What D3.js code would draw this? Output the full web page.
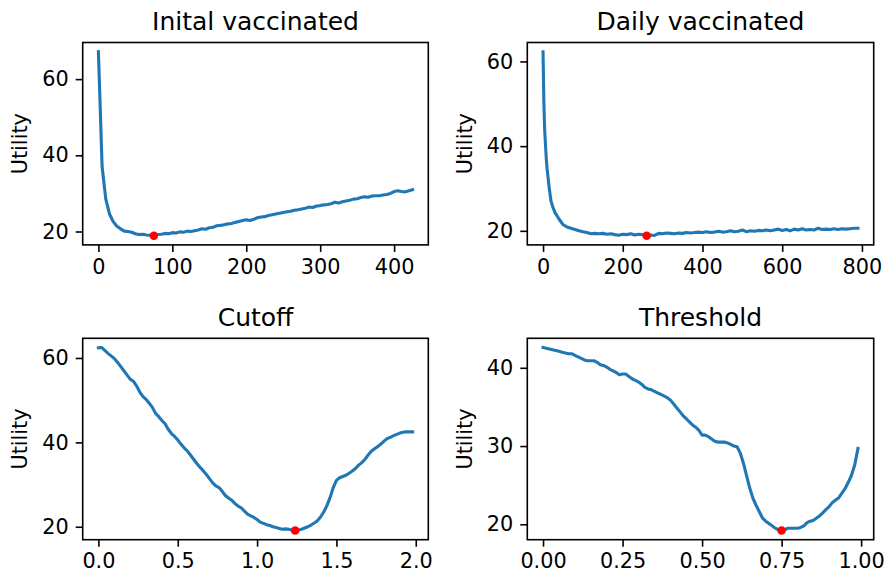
<!DOCTYPE html>
<html>
<head>
<meta charset="utf-8">
<script src="https://cdn.jsdelivr.net/npm/d3@7"></script>
<style>
  body { margin: 0; background: #fff; }
  svg { display: block; font-family: "DejaVu Sans", sans-serif; }
  .plot-title { font-size: 25px; fill: #000; }
  .axis-title { font-size: 20.8px; fill: #000; }
</style>
</head>
<body>
<svg id="UtilityVis" width="888" height="581"></svg>
<script>
const width = 888;
const height = 581;


/*******************************************************************************/


/*
* DATA
*/

// Inital vaccinated: sampled every 5 from 0 to 425
const initialX = d3.range(0, 430, 5);
const initialUtility = [
  67.2, 37.0, 28.5, 24.6, 22.6, 21.4, 20.7, 20.1, 20.0, 19.8,
  19.4, 19.2, 19.3, 19.1, 19.0, 18.9, 19.2, 19.3, 19.5, 19.4,
  19.7, 19.6, 19.9, 19.8, 20.1, 20.0, 20.2, 20.4, 20.7, 20.6,
  21.0, 21.1, 21.5, 21.6, 21.8, 22.0, 22.1, 22.4, 22.6, 22.9,
  23.1, 22.9, 23.2, 23.6, 23.8, 23.9, 24.2, 24.4, 24.6, 24.8,
  25.0, 25.2, 25.3, 25.6, 25.7, 25.9, 26.1, 26.4, 26.3, 26.7,
  26.8, 27.0, 27.1, 27.3, 27.7, 27.5, 27.8, 28.0, 28.2, 28.5,
  28.6, 28.9, 29.1, 29.0, 29.3, 29.4, 29.4, 29.6, 29.7, 30.0,
  30.5, 30.7, 30.5, 30.4, 30.7, 31.0
];

// Daily vaccinated
const dailyX = [
  0, 2, 4, 6, 8, 10, 15, 20, 25, 30, 40, 50, 60, 70, 80, 90,
  100, 110, 120, 130, 140, 150, 160, 170, 180, 190,
  200, 210, 220, 230, 240, 250, 260, 270, 280, 290,
  300, 310, 320, 330, 340, 350, 360, 370, 380, 390,
  400, 410, 420, 430, 440, 450, 460, 470, 480, 490,
  500, 510, 520, 530, 540, 550, 560, 570, 580, 590,
  600, 610, 620, 630, 640, 650, 660, 670, 680, 690,
  700, 710, 720, 730, 740, 750, 760, 770, 780, 790
];
const dailyUtility = [
  62.3, 50.5, 44.0, 40.5, 37.2, 34.8, 30.5, 27.0, 25.5, 24.3, 22.8, 21.5, 20.9, 20.6, 20.3, 20.0,
  19.8, 19.6, 19.3, 19.4, 19.3, 19.4, 19.2, 19.3, 19.1, 18.95,
  19.2, 19.1, 19.3, 19.0, 19.2, 19.1, 18.85, 19.0, 18.9, 19.4,
  19.3, 19.5, 19.4, 19.3, 19.5, 19.4, 19.6, 19.5, 19.6, 19.7,
  19.6, 19.8, 19.6, 19.7, 19.9, 19.7, 19.8, 20.0, 19.8, 19.9,
  20.2, 19.8, 20.0, 19.9, 20.1, 20.0, 20.2, 20.0, 20.2, 20.4,
  20.1, 20.3, 20.0, 20.4, 20.2, 20.5, 20.2, 20.3, 20.2, 20.6,
  20.3, 20.4, 20.3, 20.5, 20.3, 20.5, 20.4, 20.5, 20.6, 20.6
];

// Cutoff: sampled every 0.02 from 0 to 1.98
const cutoffX = d3.range(0, 100).map(i => i * 0.02);
const cutoffUtility = [
  62.4, 62.5, 61.8, 61.1, 60.5, 59.9, 59.0, 58.0, 57.0, 56.0,
  55.0, 54.5, 53.4, 52.0, 50.9, 50.2, 49.3, 48.3, 46.9, 46.1,
  45.2, 44.4, 43.1, 42.1, 41.4, 40.6, 39.6, 38.7, 38.0, 37.0,
  36.0, 35.0, 34.1, 33.3, 32.4, 31.4, 30.4, 29.7, 29.3, 28.4,
  27.4, 26.8, 26.3, 25.5, 24.9, 24.5, 23.7, 23.0, 22.6, 22.2,
  21.7, 21.1, 20.8, 20.5, 20.3, 20.0, 19.8, 19.6, 19.4, 19.5,
  19.4, 19.2, 19.1, 19.2, 19.4, 19.7, 20.0, 20.4, 20.9, 21.4,
  22.3, 23.5, 25.0, 26.9, 29.3, 31.0, 31.6, 31.9, 32.2, 32.7,
  33.2, 33.8, 34.6, 35.2, 36.0, 37.0, 37.9, 38.5, 39.0, 39.6,
  40.3, 40.9, 41.2, 41.6, 41.9, 42.2, 42.4, 42.5, 42.5, 42.5
];

// Threshold: sampled every 0.01 from 0 to 0.99
const thresholdX = d3.range(0, 100).map(i => i * 0.01);
const thresholdUtility = [
  42.6, 42.5, 42.4, 42.3, 42.2, 42.1, 42.0, 41.9, 41.8, 41.8,
  41.6, 41.4, 41.2, 41.0, 40.9, 40.9, 40.9, 40.7, 40.4, 40.3,
  40.1, 39.8, 39.6, 39.4, 39.1, 39.2, 39.2, 38.9, 38.6, 38.4,
  38.2, 37.9, 37.5, 37.3, 37.2, 37.0, 36.8, 36.6, 36.4, 36.2,
  35.9, 35.4, 34.9, 34.4, 33.9, 33.5, 33.1, 32.7, 32.4, 32.0,
  31.4, 31.4, 31.2, 30.9, 30.6, 30.5, 30.5, 30.5, 30.4, 30.2,
  30.0, 29.9, 29.1, 27.8, 26.2, 24.6, 23.3, 22.4, 21.6, 20.8,
  20.4, 20.1, 19.8, 19.5, 19.3, 19.2, 19.3, 19.5, 19.5, 19.5,
  19.5, 19.6, 19.8, 20.2, 20.4, 20.5, 20.8, 21.1, 21.5, 21.9,
  22.3, 22.8, 23.1, 23.4, 24.0, 24.6, 25.4, 26.3, 27.6, 29.7
];

// tick values
const initialXTicks = [0, 100, 200, 300, 400];
const dailyXTicks = [0, 200, 400, 600, 800];
const cutoffXTicks = [0, 0.5, 1.0, 1.5, 2.0];
const thresholdXTicks = [0, 0.25, 0.5, 0.75, 1.0];
const utilityTicks = [20, 40, 60];
const thresholdYTicks = [20, 30, 40];

const titles = ["Inital vaccinated", "Daily vaccinated", "Cutoff", "Threshold"];


/*******************************************************************************/


/*
* PANELS
*/

const lineColor = "#1f77b4";
const dotColor = "#ff0000";

const panels = [
  { title: titles[0], xs: initialX, ys: initialUtility, xTicks: initialXTicks, yTicks: utilityTicks, fmt: d3.format("d"),
    left: 82.7, top: 42.5, w: 345.6, h: 202.4, labelX: 27.3 },
  { title: titles[1], xs: dailyX, ys: dailyUtility, xTicks: dailyXTicks, yTicks: utilityTicks, fmt: d3.format("d"),
    left: 527.3, top: 42.5, w: 346.4, h: 202.4, labelX: 472 },
  { title: titles[2], xs: cutoffX, ys: cutoffUtility, xTicks: cutoffXTicks, yTicks: utilityTicks, fmt: d3.format(".1f"),
    left: 82.7, top: 338.3, w: 345.6, h: 201.4, labelX: 27.3 },
  { title: titles[3], xs: thresholdX, ys: thresholdUtility, xTicks: thresholdXTicks, yTicks: thresholdYTicks, fmt: d3.format(".2f"),
    left: 527.3, top: 338.3, w: 346.4, h: 201.4, labelX: 472 }
];

let svg = d3.select("body").select("svg#UtilityVis");

panels.forEach((p, i) => drawPanel(p, i));


/*
* Draw one subplot
*/
function drawPanel(p, i) {

  const data = p.xs.map((x, k) => ({ x: x, y: p.ys[k] }));

  const scales = {
    x: d3.scaleLinear().domain(padded(d3.extent(data, d => d.x))).range([0, p.w]),
    y: d3.scaleLinear().domain(padded(d3.extent(data, d => d.y))).range([p.h, 0])
  };

  const plot = svg.append("g")
    .attr("id", "plot" + i)
    .attr("transform", translate(p.left, p.top));

  svg.append("defs").append("clipPath")
    .attr("id", "clip" + i)
    .append("rect")
    .attr("width", p.w)
    .attr("height", p.h);

  /* LINE */
  const line = d3.line()
    .x(d => scales.x(d.x))
    .y(d => scales.y(d.y));

  plot.append("path")
    .datum(data)
    .attr("clip-path", "url(#clip" + i + ")")
    .attr("d", line)
    .attr("fill", "none")
    .attr("stroke", lineColor)
    .attr("stroke-width", 3.1)
    .attr("stroke-linejoin", "round")
    .attr("stroke-linecap", "square");

  /* MINIMUM */
  const best = d3.least(data, d => d.y);
  plot.append("circle")
    .attr("cx", scales.x(best.x))
    .attr("cy", scales.y(best.y))
    .attr("r", 4.3)
    .attr("fill", dotColor);

  /* AXES */
  const xAxis = d3.axisBottom(scales.x)
    .tickValues(p.xTicks)
    .tickFormat(p.fmt)
    .tickSize(7)
    .tickPadding(7)
    .tickSizeOuter(0);

  const yAxis = d3.axisLeft(scales.y)
    .tickValues(p.yTicks)
    .tickFormat(d3.format("d"))
    .tickSize(7)
    .tickPadding(7)
    .tickSizeOuter(0);

  const xGroup = plot.append("g").attr("class", "axis").attr("transform", translate(0, p.h)).call(xAxis);
  const yGroup = plot.append("g").attr("class", "axis").call(yAxis);

  [xGroup, yGroup].forEach(g => {
    g.attr("font-size", 20.8).attr("font-family", "DejaVu Sans, sans-serif");
    g.select(".domain").remove();
    g.selectAll(".tick line").attr("stroke", "#000").attr("stroke-width", 1.6);
    g.selectAll(".tick text").attr("fill", "#000");
  });

  /* FRAME */
  plot.append("rect")
    .attr("width", p.w)
    .attr("height", p.h)
    .attr("fill", "none")
    .attr("stroke", "#000")
    .attr("stroke-width", 1.6);

  /* TITLES */
  plot.append("text")
    .attr("class", "plot-title")
    .attr("x", p.w / 2)
    .attr("y", -12.5)
    .attr("text-anchor", "middle")
    .text(p.title);

  const yTitle = svg.append("text")
    .attr("class", "axis-title")
    .attr("transform", translate(p.labelX, p.top + p.h / 2) + " rotate(-90)")
    .attr("text-anchor", "middle")
    .text("Utility");
}


/*
 * pads an extent by 5% on both sides, like matplotlib's default margins
 */
function padded(extent) {
  const pad = (extent[1] - extent[0]) * 0.05;
  return [extent[0] - pad, extent[1] + pad];
}


/*
 * returns a translate string for the transform attribute
 */
function translate(x, y) {
  return 'translate(' + String(x) + ',' + String(y) + ')';
}
</script>
</body>
</html>
